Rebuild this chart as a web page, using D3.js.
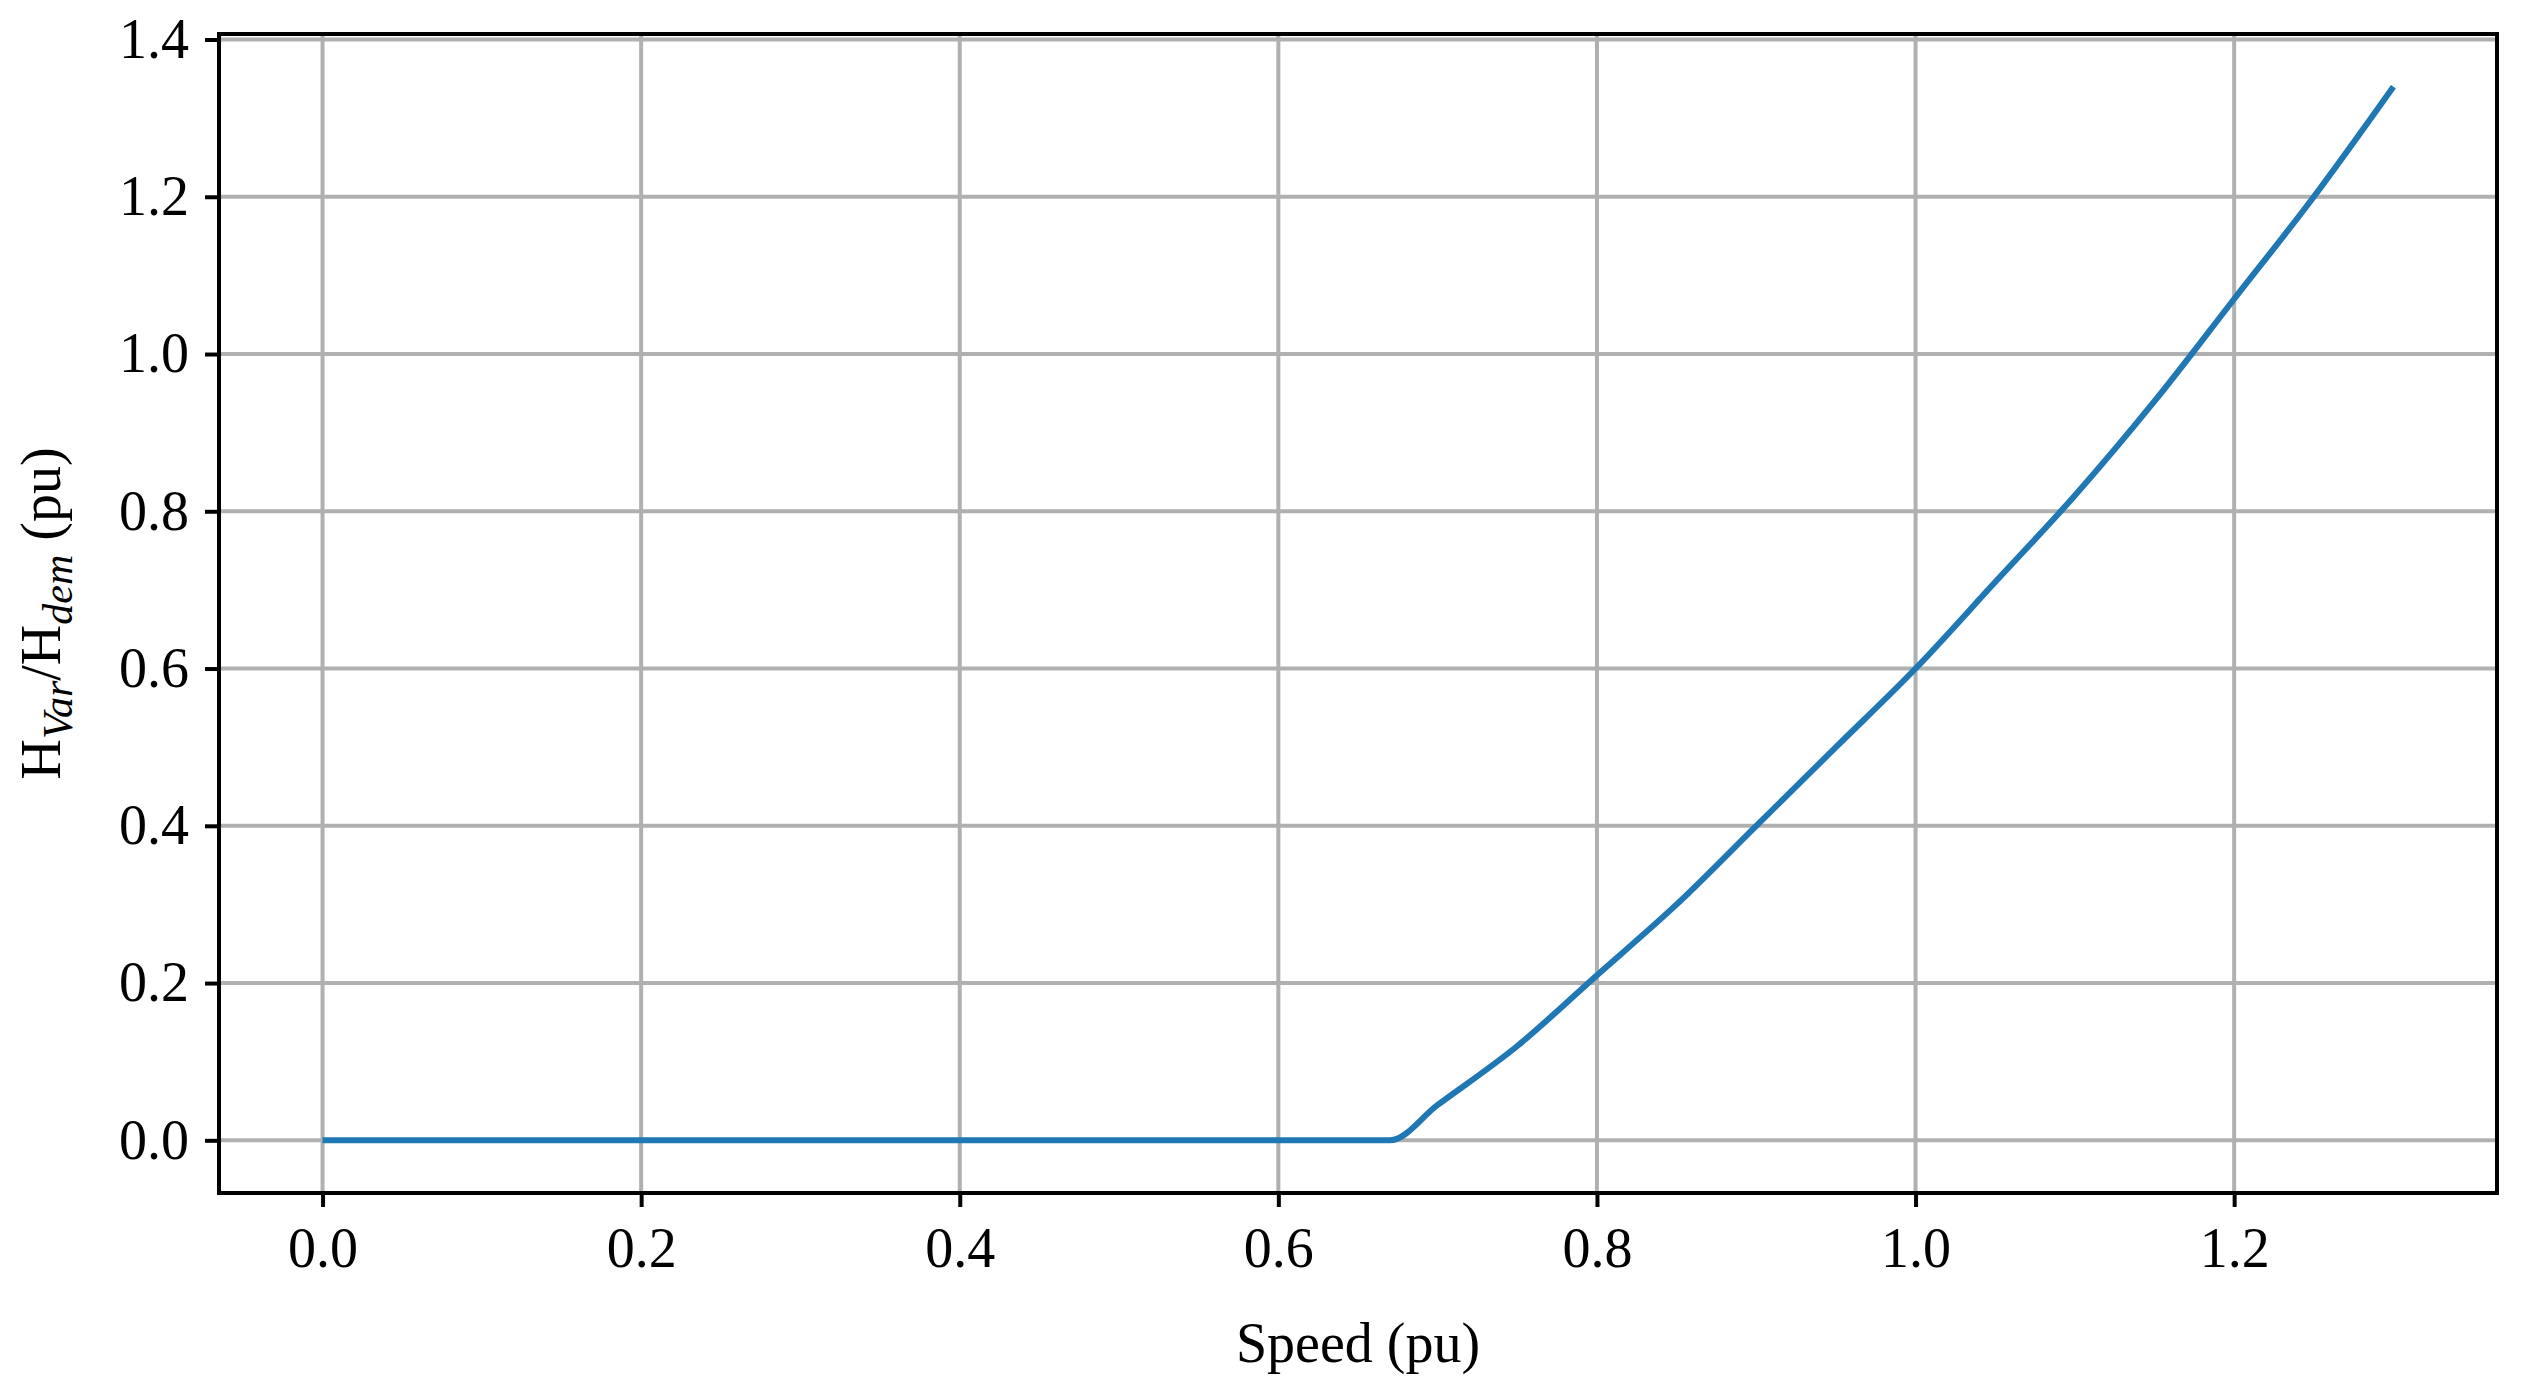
<!DOCTYPE html>
<html><head><meta charset="utf-8">
<script src="https://cdn.jsdelivr.net/npm/d3@7"></script>
<style>body{margin:0;background:#fff}text{font-family:"Liberation Serif","DejaVu Serif",serif}</style>
</head><body>
<svg id="c" width="2522" height="1391"></svg>
<script>
"use strict";
// curve
var speed = [0, 0.2, 0.4, 0.6, 0.67, 0.7, 0.75, 0.8, 0.85, 0.9, 0.95, 1.0, 1.05, 1.1, 1.15, 1.2, 1.25, 1.3];
var ratio = [0, 0, 0, 0, 0, 0.045, 0.12, 0.21, 0.30, 0.40, 0.50, 0.60, 0.71, 0.82, 0.94, 1.07, 1.20, 1.34];
var xTicks = [0, 0.2, 0.4, 0.6, 0.8, 1.0, 1.2];
var yTicks = [0, 0.2, 0.4, 0.6, 0.8, 1.0, 1.2, 1.4];

var m = {l: 219, r: 2497, t: 34, b: 1193};
var svg = d3.select("#c");
var x = d3.scaleLinear().domain([-0.065, 1.365]).range([m.l, m.r]);
var y = d3.scaleLinear().domain([-0.067, 1.407]).range([m.b, m.t]);

// grid
svg.append("g").selectAll("line").data(xTicks).join("line")
    .attr("x1", x).attr("x2", x).attr("y1", m.t).attr("y2", m.b)
    .attr("stroke", "#b0b0b0").attr("stroke-width", 4);
svg.append("g").selectAll("line").data(yTicks).join("line")
    .attr("y1", y).attr("y2", y).attr("x1", m.l).attr("x2", m.r)
    .attr("stroke", "#b0b0b0").attr("stroke-width", 4);

// curve
svg.append("path").datum(d3.zip(speed, ratio))
    .attr("d", d3.line().curve(d3.curveMonotoneX)
        .x(function(d){ return x(d[0]); }).y(function(d){ return y(d[1]); }))
    .attr("fill", "none").attr("stroke", "#1f77b4").attr("stroke-width", 6);

// axes
var xa = svg.append("g").attr("transform", "translate(0," + m.b + ")")
    .call(d3.axisBottom(x).tickValues(xTicks).tickFormat(d3.format(".1f")).tickSize(14).tickPadding(20));
var ya = svg.append("g").attr("transform", "translate(" + m.l + ",0)")
    .call(d3.axisLeft(y).tickValues(yTicks).tickFormat(d3.format(".1f")).tickSize(14).tickPadding(16));
[xa, ya].forEach(function(a){
    a.select(".domain").remove();
    a.selectAll("line").attr("stroke", "#000").attr("stroke-width", 4);
    a.selectAll("text").attr("font-size", 56).attr("fill", "#000");
});
svg.append("rect").attr("x", m.l).attr("y", m.t).attr("width", m.r - m.l).attr("height", m.b - m.t)
    .attr("fill", "none").attr("stroke", "#000").attr("stroke-width", 4);

// labels
svg.append("text").attr("x", (m.l + m.r) / 2).attr("y", 1362).attr("text-anchor", "middle")
    .attr("font-size", 56).text("Speed (pu)");
var yl = svg.append("text").attr("transform", "translate(60," + (m.t + m.b) / 2 + ") rotate(-90)")
    .attr("text-anchor", "middle").attr("font-size", 56);
yl.append("tspan").text("H");
yl.append("tspan").attr("font-style", "italic").attr("font-size", 42).attr("dy", 12).text("Var");
yl.append("tspan").attr("dy", -12).text("/H");
yl.append("tspan").attr("font-style", "italic").attr("font-size", 42).attr("dy", 12).text("dem");
yl.append("tspan").attr("dy", -12).text(" (pu)");
</script>
</body></html>
